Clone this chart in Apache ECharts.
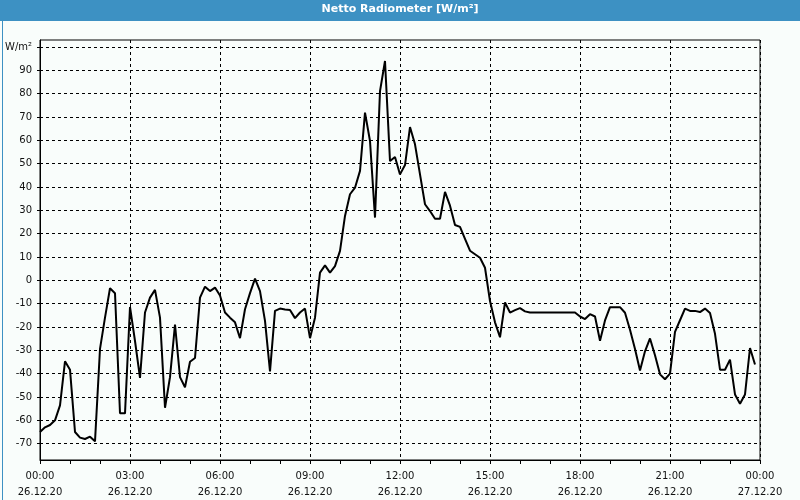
<!DOCTYPE html>
<html><head><meta charset="utf-8">
<script src="https://cdn.jsdelivr.net/npm/echarts@6/dist/echarts.min.js"></script>
<style>html,body{margin:0;padding:0;background:#fff}#c{width:800px;height:500px}</style>
</head><body><div id="c"></div>
<script>
const chartTitle = 'Netto Radiometer [W/m²]';
const unitLabel = 'W/m²';
const stepHours = 1 / 6; // 10-minute samples starting 26.12.20 00:00
const values = [
  -65, -63, -62, -60, -53.6, -34.7, -38.3, -65, -67.4, -68, -67, -69,
  -29.4, -16, -3.4, -5.5, -57, -57, -11.4, -26, -41.8, -13.8, -7.4, -4.1,
  -16, -54.6, -41.5, -19, -41.5, -45.8, -34.9, -33.3, -7.4, -2.7, -4.6, -3.1,
  -6.5, -13.8, -16, -18, -24.8, -12.4, -5.5, 0.7, -4.6, -17.4, -39, -13.1,
  -12.1, -12.5, -12.7, -16.2, -13.8, -12.1, -24.8, -16, 3.3, 6.4, 3.3, 6.1,
  12.6, 27.6, 36.9, 39.7, 46.9, 71.9, 59.7, 26.9, 81.1, 94, 51.1, 52.9,
  45.4, 49.4, 65.7, 58.3, 45.4, 32.6, 29.7, 26.4, 26.4, 37.9, 32, 23.7,
  22.9, 17.8, 12.7, 11.2, 9.7, 5.4, -8.9, -18, -24.4, -9.5, -13.8, -12.8,
  -11.9, -13.3, -13.8, -13.8, -13.8, -13.8, -13.8, -13.8, -13.8, -13.8, -13.8, -13.8,
  -15.5, -16.6, -14.5, -15.5, -25.9, -17.2, -11.5, -11.5, -11.5, -13.9, -21.2, -29.4,
  -38.6, -30.4, -24.9, -32.1, -40.3, -42.4, -40, -22.1, -17.1, -12.1, -13.1, -13.1,
  -13.6, -12.1, -14, -22.9, -38.3, -38.3, -34, -48.9, -52.9, -48.9, -29, -36.1
];
const xTickTimes = ['00:00','03:00','06:00','09:00','12:00','15:00','18:00','21:00','00:00'];
const xTickDates = ['26.12.20','26.12.20','26.12.20','26.12.20','26.12.20','26.12.20','26.12.20','26.12.20','27.12.20'];
const yTicks = [-70,-60,-50,-40,-30,-20,-10,0,10,20,30,40,50,60,70,80,90,100];

const seriesData = values.map((v, i) => [i * stepHours, v]);
const font = 'DejaVu Sans';
const chart = echarts.init(document.getElementById('c'), null, {renderer: 'canvas'});
chart.setOption({
  animation: false,
  backgroundColor: '#f9fdfb',
  grid: {left: 40, right: 40, top: 40, bottom: 40, show: true, borderColor: '#000', borderWidth: 1, backgroundColor: 'transparent'},
  xAxis: {
    type: 'value', min: 0, max: 24, interval: 3,
    axisLine: {show: true, onZero: false, lineStyle: {color: '#000', width: 1}},
    axisTick: {show: true, length: 4, lineStyle: {color: '#000'}},
    minorTick: {show: true, splitNumber: 3, length: 4, lineStyle: {color: '#000'}},
    splitLine: {show: true, lineStyle: {color: '#000', type: [3, 3], width: 1}},
    axisLabel: {
      margin: 8, color: '#111', fontFamily: font, fontSize: 10, lineHeight: 16,
      formatter: (v) => { const k = Math.round(v / 3); return xTickTimes[k] + '\n' + xTickDates[k]; }
    }
  },
  yAxis: {
    type: 'value', min: -77, max: 103,
    axisLine: {show: true, onZero: false, lineStyle: {color: '#000', width: 1}},
    axisTick: {show: true, length: 6, customValues: yTicks, lineStyle: {color: '#000', type: [3, 3]}},
    splitLine: {show: true, lineStyle: {color: '#000', type: [3, 3], width: 1}},
    axisLabel: {
      margin: 8, color: '#111', fontFamily: font, fontSize: 10, customValues: yTicks,
      formatter: (v) => v === 100 ? unitLabel : String(v)
    }
  },
  series: [{
    type: 'line', data: seriesData, showSymbol: false, symbol: 'none',
    lineStyle: {color: '#000', width: 2}, z: 5
  }],
  graphic: [
    {type: 'rect', left: 0, top: 0, shape: {width: 800, height: 21}, style: {fill: '#3d91c3'}, z: 10},
    {type: 'text', left: 'center', top: 4, style: {text: chartTitle, fill: '#fff', font: 'bold 11px "DejaVu Sans"'}, z: 11},
    {type: 'rect', left: 0, top: 0, shape: {x: 0.5, y: 0.5, width: 799, height: 499}, style: {fill: 'none', stroke: '#3d91c3', lineWidth: 1}, z: 10}
  ]
});
</script></body></html>
